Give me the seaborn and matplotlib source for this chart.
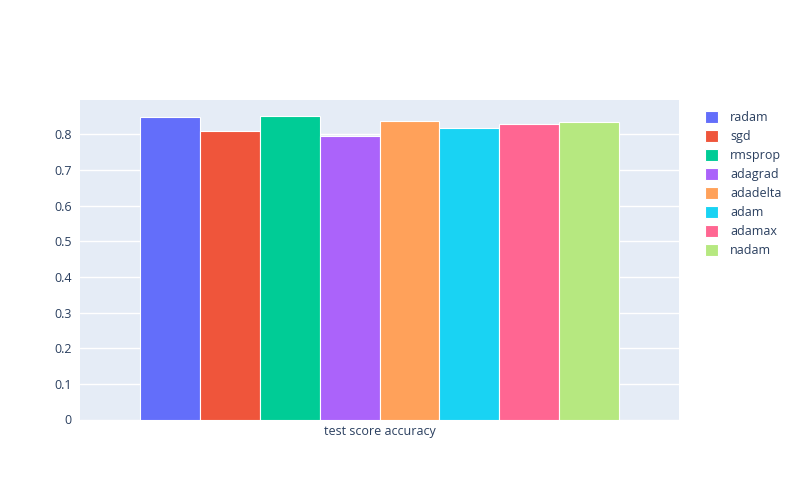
import matplotlib
matplotlib.use('Agg')
import matplotlib.pyplot as plt
import seaborn as sns
import pandas as pd

# data
optimizers = ['radam', 'sgd', 'rmsprop', 'adagrad', 'adadelta', 'adam', 'adamax', 'nadam']
scores = [0.849, 0.809, 0.851, 0.796, 0.838, 0.817, 0.829, 0.834]
metric = ['test score accuracy'] * len(optimizers)
colors = ['#636EFA', '#EF553B', '#00CC96', '#AB63FA', '#FFA15A', '#19D3F3', '#FF6692', '#B6E880']

df = pd.DataFrame({'metric': metric, 'optimizer': optimizers, 'score': scores})

sns.set_style('darkgrid', {'axes.facecolor': '#E5ECF6', 'grid.color': 'white'})
plt.rcParams['font.family'] = ['Open Sans', 'DejaVu Sans']

fig, ax = plt.subplots(figsize=(8, 5), dpi=100)
fig.subplots_adjust(left=0.1, right=679 / 800, top=0.8, bottom=0.161)

sns.barplot(data=df, x='metric', y='score', hue='optimizer', palette=colors,
            saturation=1, width=0.8, edgecolor='white', linewidth=0.8, ax=ax)

ax.set_ylim(0, 0.896)
ax.set_xlim(-0.5, 0.5)
ax.set_yticks([i / 10 for i in range(9)])
ax.set_yticklabels(['0'] + [f'{i / 10:.1f}' for i in range(1, 9)])
ax.set_xlabel('')
ax.set_ylabel('')
ax.grid(axis='x', visible=False)
ax.grid(axis='y', color='white', linewidth=1)
for s in ax.spines.values():
    s.set_visible(False)
ax.tick_params(axis='both', length=0, labelsize=9, labelcolor='#2a3f5f', pad=6)
ax.tick_params(axis='x', pad=4)

handles, labels = ax.get_legend_handles_labels()
ax.get_legend().remove()
fig.legend(handles, labels, loc='upper left', bbox_to_anchor=(694 / 800, 1 - 100 / 500),
           frameon=False, fontsize=9, labelcolor='#2a3f5f',
           handlelength=1.0, handleheight=1.0, handletextpad=1.0, labelspacing=0.48)

fig.savefig('out.png', dpi=100, facecolor='white')
